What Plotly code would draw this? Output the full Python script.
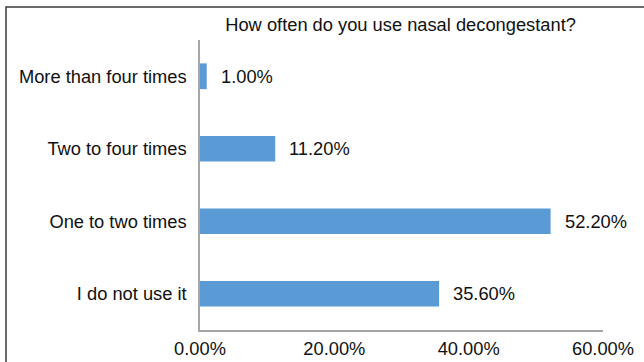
import plotly.graph_objects as go

# Survey responses: how often nasal decongestant is used
categories = ["I do not use it", "One to two times", "Two to four times", "More than four times"]
shares = [35.6, 52.2, 11.2, 1.0]
x_ticks = [0, 20, 40, 60]
x_tick_labels = [f"{t:.2f}%" for t in x_ticks]

BAR_COLOR = "#5B9BD5"
TEXT_COLOR = "#111111"
AXIS_COLOR = "#a6a6a6"
FONT = "Liberation Sans, Arial, sans-serif"
FS = 18.3

fig = go.Figure(
    go.Bar(
        x=shares,
        y=categories,
        orientation="h",
        marker=dict(color=BAR_COLOR, line=dict(width=0)),
        hoverinfo="skip",
    )
)

# value labels to the right of each bar
for cat, val in zip(categories, shares):
    fig.add_annotation(
        x=val, y=cat, xref="x", yref="y",
        text=f"{val:.2f}%", showarrow=False,
        xanchor="left", yanchor="middle", xshift=12,
        font=dict(size=FS, color=TEXT_COLOR, family=FONT),
    )

# outer chart frame (extends past the right and bottom edges of the page)
fig.add_shape(
    type="rect", xref="paper", yref="paper",
    x0=-0.4814, x1=1.12, y0=-0.2, y1=1.1138,
    line=dict(color="#3a3a3a", width=1.5), fillcolor="rgba(0,0,0,0)", layer="below",
)

fig.update_layout(
    width=644, height=362,
    margin=dict(l=200, r=41, t=40, b=32, autoexpand=False),
    paper_bgcolor="white", plot_bgcolor="white",
    bargap=0.645,
    showlegend=False,
    font=dict(family=FONT, size=FS, color=TEXT_COLOR),
    title=dict(
        text="How often do you use nasal decongestant?",
        x=0.622, xref="container", xanchor="center",
        y=1 - 25 / 362, yref="container", yanchor="middle",
        font=dict(size=FS, color=TEXT_COLOR, family=FONT),
    ),
    xaxis=dict(
        range=[0, 60], tickvals=x_ticks, ticktext=x_tick_labels,
        showgrid=False, zeroline=False, automargin=False,
        showline=True, linecolor=AXIS_COLOR, linewidth=1.5,
        ticks="", ticklabelstandoff=1,
        tickfont=dict(size=FS, color=TEXT_COLOR, family=FONT),
    ),
    yaxis=dict(
        categoryorder="array", categoryarray=categories,
        showgrid=False, zeroline=False, automargin=False,
        showline=True, linecolor=AXIS_COLOR, linewidth=1.5,
        ticks="", ticklabelstandoff=8,
        tickfont=dict(size=FS, color=TEXT_COLOR, family=FONT),
    ),
)

fig.write_html("out.html")
